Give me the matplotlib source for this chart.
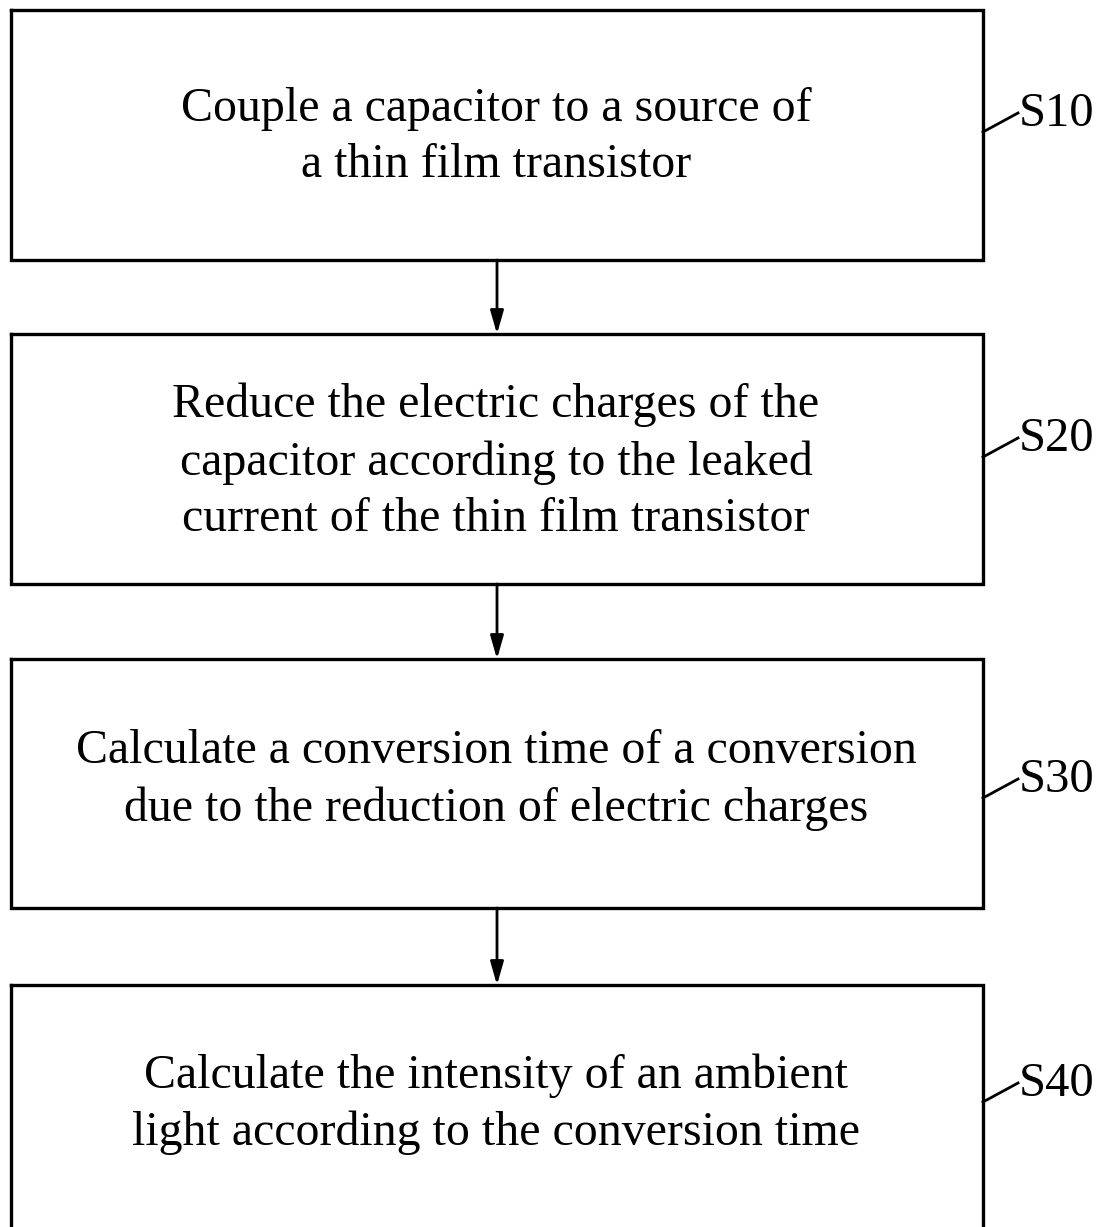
import matplotlib.pyplot as plt
from matplotlib.patches import FancyArrowPatch

# step texts and labels
steps = [
    "Couple a capacitor to a source of\na thin film transistor",
    "Reduce the electric charges of the\ncapacitor according to the leaked\ncurrent of the thin film transistor",
    "Calculate a conversion time of a conversion\ndue to the reduction of electric charges",
    "Calculate the intensity of an ambient\nlight according to the conversion time",
]
labels = ["S10", "S20", "S30", "S40"]

# box geometry in pixels (top, bottom)
box_top = [10, 334, 659, 985]
box_bot = [260, 584, 908, 1240]
text_y = [137, 462, 780, 1104]
label_y = [112, 437, 778, 1082]
box_left, box_right = 11, 983

fig = plt.figure(figsize=(11.02, 12.27), dpi=100)
ax = fig.add_axes([0, 0, 1, 1])
ax.set_xlim(0, 1102)
ax.set_ylim(1227, 0)
ax.axis("off")

for i in range(len(steps)):
    t, b = box_top[i], box_bot[i]
    ax.plot([box_left, box_right, box_right, box_left, box_left],
            [t, t, b, b, t], color="black", lw=2.4, solid_joinstyle="miter")
    ax.text(496, text_y[i], steps[i], ha="center", va="center",
            fontsize=34.5, family="Liberation Serif", linespacing=1.37)
    ly = label_y[i]
    ax.plot([box_right, box_right + 35], [ly + 20, ly + 1], color="black", lw=2)
    ax.text(box_right + 36, ly + 2, labels[i], ha="left", va="center",
            fontsize=35, family="Liberation Serif")
    if i < len(steps) - 1:
        arr = FancyArrowPatch((497, b), (497, box_top[i + 1]),
                              arrowstyle="-|>,head_length=14,head_width=4",
                              color="black", lw=2, shrinkA=0, shrinkB=0,
                              mutation_scale=1)
        ax.add_patch(arr)

fig.savefig("out.png", dpi=100)
